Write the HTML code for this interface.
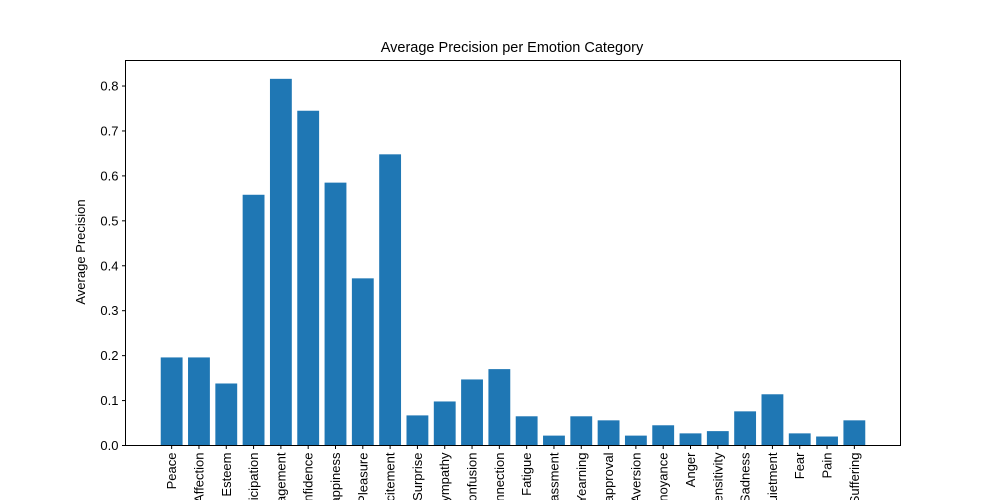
<!DOCTYPE html>
<html><head><meta charset="utf-8"><style>
html,body{margin:0;background:#fff;width:1000px;height:500px;overflow:hidden}
svg{display:block;font-family:"Liberation Sans","DejaVu Sans",sans-serif;overflow:hidden}
</style></head><body>
<svg id="chart" width="1000" height="500" viewBox="0 0 1000 500">
<defs><clipPath id="frameclip"><rect x="0" y="0" width="1000" height="500"/></clipPath></defs>
<rect x="0" y="0" width="1000" height="500" fill="#fff"/>
<text x="512" y="52" text-anchor="middle" font-size="14.5">Average Precision per Emotion Category</text>
<text transform="translate(85,252) rotate(-90)" text-anchor="middle" font-size="13">Average Precision</text>
<g id="bars"></g><g id="yticks"></g><g id="xticks" clip-path="url(#frameclip)"></g>
<rect x="125.5" y="60.5" width="775" height="385" fill="none" stroke="#000" stroke-width="1"/>
</svg>
<script>
const categories=["Peace","Affection","Esteem","Anticipation","Engagement","Confidence","Happiness","Pleasure","Excitement","Surprise","Sympathy","Doubt/Confusion","Disconnection","Fatigue","Embarrassment","Yearning","Disapproval","Aversion","Annoyance","Anger","Sensitivity","Sadness","Disquietment","Fear","Pain","Suffering"];
const values=[0.196,0.196,0.138,0.558,0.816,0.745,0.585,0.372,0.648,0.067,0.098,0.147,0.170,0.065,0.022,0.065,0.056,0.022,0.045,0.027,0.032,0.076,0.114,0.027,0.020,0.056];
const yTicks=[0.0,0.1,0.2,0.3,0.4,0.5,0.6,0.7,0.8];
const NS="http://www.w3.org/2000/svg";
const L=125.5,R=900.5,T=60.5,B=445.5;
const n=categories.length;
const xmin=-0.4-0.05*(n-1+0.8),xmax=n-1+0.4+0.05*(n-1+0.8);
const ymax=Math.max(...values)*1.05;
const xs=v=>L+(v-xmin)/(xmax-xmin)*(R-L);
const ys=v=>B-v/ymax*(B-T);
function mk(tag,attrs,parent){const e=document.createElementNS(NS,tag);for(const k in attrs)e.setAttribute(k,attrs[k]);parent.appendChild(e);return e;}
const gb=document.getElementById('bars'),gy=document.getElementById('yticks'),gx=document.getElementById('xticks');
values.forEach((v,i)=>{
 const r=mk('rect',{x:xs(i-0.4),y:ys(v),width:xs(i+0.4)-xs(i-0.4),height:B-ys(v),fill:'#1f77b4'},gb);
 
 
});
yTicks.forEach(t=>{
 const y=ys(t);
 const l=mk('line',{x1:L-3.5,x2:L,y1:y,y2:y,stroke:'#000'},gy);
 
 
 const tx=mk('text',{x:L-7,y:y+4.5,'text-anchor':'end','font-size':'13'},gy);
 tx.textContent=t.toFixed(1);
 
 
});
categories.forEach((c,i)=>{
 const x=xs(i);
 const l=mk('line',{x1:x,x2:x,y1:B,y2:B+3.5,stroke:'#000'},gx);
 
 
 const tx=mk('text',{transform:`translate(${x+4.5},${B+7}) rotate(-90)`,'text-anchor':'end','font-size':'13'},gx);
 tx.textContent=c;
 
 
});
</script>
</body></html>
